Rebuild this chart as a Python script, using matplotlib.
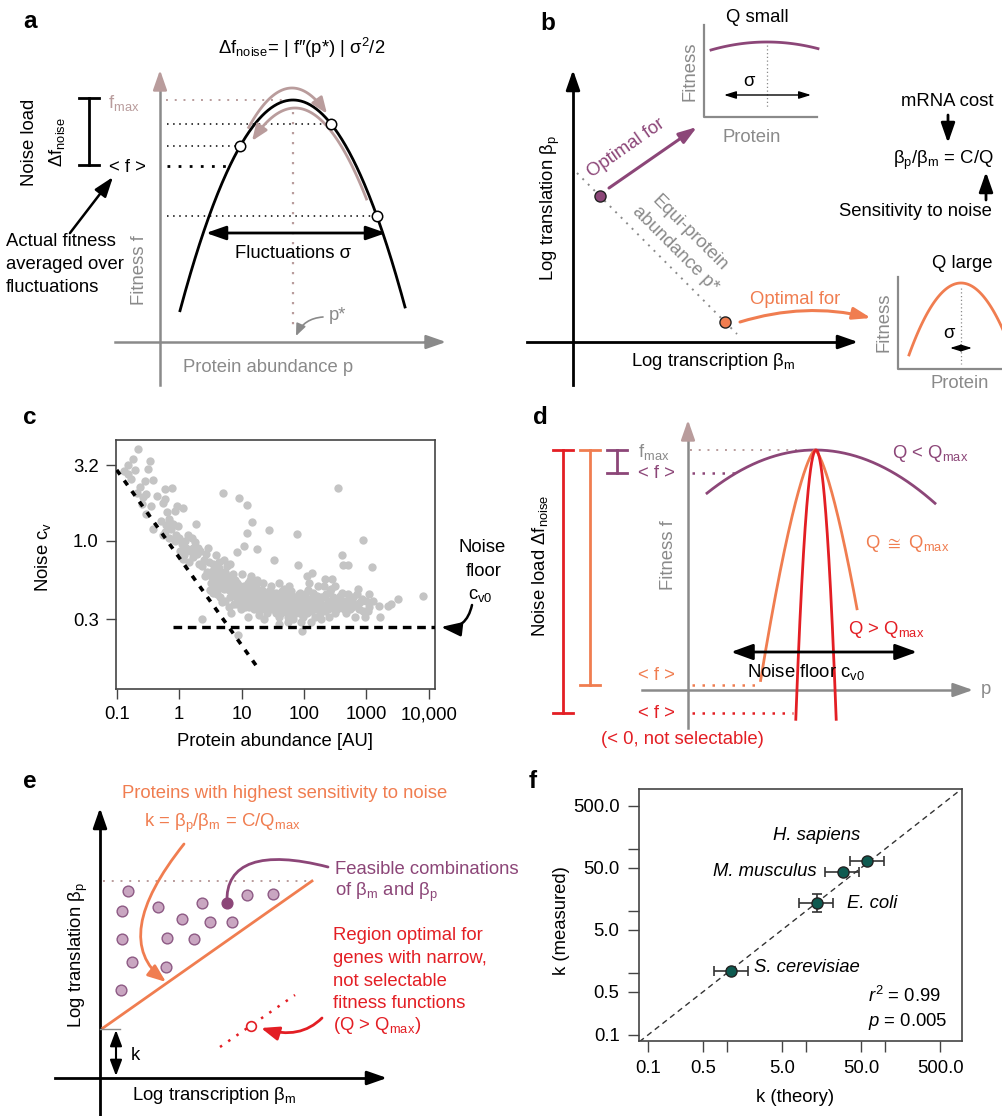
import numpy as np
import matplotlib
matplotlib.use("Agg")
import matplotlib.pyplot as plt
from matplotlib.patches import FancyArrowPatch
from matplotlib.path import Path

plt.rcParams['font.family'] = ['Liberation Sans', 'DejaVu Sans']
plt.rcParams['mathtext.fontset'] = 'custom'
plt.rcParams['mathtext.rm'] = 'Liberation Sans'
plt.rcParams['mathtext.it'] = 'Liberation Sans:italic'
plt.rcParams['mathtext.bf'] = 'Liberation Sans:bold'
plt.rcParams['mathtext.default'] = 'regular'
plt.rcParams['mathtext.fallback'] = 'stixsans'

W, H = 1003, 1116
FS = 13.3
PURPLE = '#8c4678'
ORANGE = '#f07d50'
RED = '#e31e24'
GRAY = '#8a8a8a'
MAUVE = '#b99c9c'
TEAL = '#0e5a50'

# ---------------- panel c data (protein abundance vs noise) ----------------
c_abundance = [
    0.22, 0.185, 0.15, 0.20, 0.15, 0.34, 0.32, 0.38, 0.28, 0.24, 0.21, 0.17, 0.13, 0.30, 0.26,
    0.44, 0.30, 0.38, 0.52, 0.25, 0.35,
    0.60, 0.76, 0.60, 0.56, 0.91, 1.17, 0.86, 0.65, 0.70, 0.80, 0.75, 0.60, 0.90, 0.68, 0.85,
    0.95, 0.72, 0.55, 0.62, 0.98,
    1.87, 1.10, 1.30, 1.50, 1.20, 1.80, 1.60, 1.40, 1.05, 1.70, 1.90, 1.25, 1.45, 1.15, 1.65, 2.0,
    2.2, 2.5, 2.3, 3.0, 2.8, 3.3, 3.6, 4.0, 4.5, 2.6, 3.2, 3.8, 4.2, 4.8, 2.1, 2.7, 3.5, 4.4,
    4.8, 2.3, 3.1, 4.0,
    5.1, 9.2, 12.1, 14.9, 12.1, 11.1, 17.5, 8.4, 5.5, 6.0, 7.0, 8.0, 6.5, 7.5, 9.0, 5.2, 6.2,
    8.5, 9.5, 7.2, 5.8, 8.9, 6.7, 9.8,
    11, 12, 13, 14, 15, 16, 18, 20, 22, 24, 26, 28, 11.5, 13.5, 17, 19, 21, 25, 27.3, 33.5, 23,
    12.5, 15.5, 29,
    32, 35, 38, 42, 45, 50, 55, 60, 65, 70, 75, 80, 85, 90, 95, 40, 48, 58, 68, 78.8, 81.5, 92,
    36, 52, 62, 88,
    133, 110, 277, 220, 350, 880, 402, 427, 510, 1240, 105, 120, 140, 160, 180, 200, 230, 260,
    300, 340, 380, 420, 470, 520, 600, 700, 740, 800, 900, 1120, 500, 150, 250, 115, 170, 320, 650,
    8200, 3220, 2250, 2500, 1580, 1650, 950, 1100, 1300,
    3.5, 4.5, 5.5, 6.5, 7.5, 8.5, 10.5, 11.5, 13, 14.5, 16.5, 18.5, 21, 23.5, 26, 30, 34, 37, 41,
    46, 51, 57, 63, 72, 83, 98, 110, 125, 145, 165, 190, 215, 240, 280, 330, 390, 450, 560,
    6.0, 7.8, 9.3, 12.8, 4.3, 5.2, 3.9, 2.9, 6.5, 10, 14, 18, 22, 30, 40, 120, 210, 270,
    90, 130, 190, 40, 55,
]
c_noise = [
    4.1, 3.5, 3.2, 2.95, 2.8, 3.4, 3.0, 2.55, 2.5, 2.3, 2.1, 2.6, 2.9, 2.05, 1.95,
    2.0, 1.5, 1.2, 1.35, 1.75, 1.7,
    2.2, 2.25, 1.9, 1.78, 1.7, 1.65, 1.57, 1.55, 1.4, 1.3, 1.2, 1.15, 1.1, 1.05, 1.0,
    1.25, 1.32, 1.1, 1.28, 1.05,
    1.3, 0.95, 0.9, 0.85, 0.8, 0.98, 1.05, 1.1, 0.85, 0.78, 0.82, 1.0, 0.72, 0.76, 0.9, 0.9,
    0.85, 0.75, 0.68, 0.72, 0.62, 0.58, 0.65, 0.55, 0.6, 0.58, 0.52, 0.5, 0.48, 0.52, 0.7, 0.82, 0.7, 0.66,
    0.39, 0.30, 0.47, 0.44,
    2.1, 1.93, 1.73, 1.33, 1.13, 0.93, 0.88, 0.84, 0.62, 0.55, 0.5, 0.45, 0.42, 0.38, 0.4, 0.48, 0.36,
    0.52, 0.47, 0.6, 0.68, 0.236, 0.33, 0.35,
    0.5, 0.45, 0.42, 0.38, 0.48, 0.35, 0.43, 0.4, 0.37, 0.45, 0.33, 0.41, 0.36, 0.55, 0.5, 0.32, 0.47,
    0.39, 1.18, 0.74, 0.30, 0.31, 0.42, 0.36,
    0.45, 0.38, 0.42, 0.35, 0.4, 0.37, 0.44, 0.33, 0.39, 0.36, 0.42, 0.34, 0.4, 0.37, 0.31, 0.31, 0.48,
    0.5, 0.30, 1.11, 0.69, 0.25, 0.33, 0.34, 0.41, 0.45,
    0.61, 0.58, 0.56, 0.56, 2.24, 1.02, 0.8, 0.69, 0.69, 0.67, 0.4, 0.36, 0.44, 0.38, 0.33, 0.42, 0.37,
    0.46, 0.4, 0.35, 0.43, 0.38, 0.33, 0.41, 0.36, 0.44, 0.48, 0.39, 0.34, 0.44, 0.44, 0.31, 0.31,
    0.47, 0.5, 0.5, 0.31,
    0.43, 0.41, 0.37, 0.38, 0.37, 0.31, 0.31, 0.36, 0.4,
    0.45, 0.42, 0.4, 0.5, 0.44, 0.38, 0.42, 0.4, 0.47, 0.44, 0.4, 0.37, 0.42, 0.35, 0.43, 0.39, 0.42,
    0.36, 0.4, 0.43, 0.39, 0.36, 0.43, 0.39, 0.36, 0.42, 0.37, 0.41, 0.35, 0.43, 0.38, 0.34, 0.4,
    0.36, 0.39, 0.36, 0.4, 0.38,
    0.58, 0.55, 0.5, 0.52, 0.72, 0.75, 0.8, 0.9, 0.7, 0.6, 0.58, 0.55, 0.52, 0.5, 0.52, 0.52, 0.5, 0.48,
    0.29, 0.29, 0.30, 0.28, 0.29,
]
# extra points filling the dense band
c_band_abundance = [
    3.3, 3.7, 4.1, 4.6, 5.0, 5.6, 6.3, 6.9, 7.6, 8.2, 8.8, 9.6, 10.3, 11, 12, 13.2, 14, 15, 16,
    17, 19, 20, 22, 24, 27, 28, 31, 33, 36, 39, 43, 44, 47, 53, 56, 59, 61, 66, 69, 74, 77, 82,
    87, 93, 100, 104, 112, 118, 128, 135, 142, 155, 175, 185, 205, 225, 245, 290, 310, 360, 410,
    440, 480, 550, 620, 680, 760, 850, 1000, 1050,
]
c_band_noise = [
    0.62, 0.55, 0.6, 0.53, 0.58, 0.52, 0.47, 0.55, 0.48, 0.42, 0.5, 0.44, 0.38, 0.46, 0.41, 0.36,
    0.5, 0.4, 0.45, 0.38, 0.45, 0.35, 0.44, 0.38, 0.36, 0.46, 0.35, 0.41, 0.45, 0.38, 0.33, 0.46,
    0.36, 0.42, 0.31, 0.38, 0.46, 0.35, 0.42, 0.33, 0.4, 0.44, 0.33, 0.4, 0.35, 0.44, 0.33, 0.4,
    0.34, 0.38, 0.45, 0.4, 0.36, 0.42, 0.37, 0.44, 0.35, 0.42, 0.33, 0.41, 0.45, 0.35, 0.38, 0.35,
    0.42, 0.38, 0.35, 0.41, 0.4, 0.34,
]
c_floor_level = 0.268
c_floor_range = [0.8, 13000]
c_limit_x = [0.1, 17.7]
c_limit_y = [2.97, 0.145]
c_xticks = [0.1, 1, 10, 100, 1000, 10000]
c_xticklabels = ['0.1', '1', '10', '100', '1000', '10,000']
c_yticks = [0.3, 1.0, 3.2]
c_yticklabels = ['0.3', '1.0', '3.2']

# ---------------- panel f data (k theory vs measured) ----------------
f_species = ['S. cerevisiae', 'E. coli', 'M. musculus', 'H. sapiens']
f_k_theory = [1.13, 13.6, 29, 60]
f_k_measured = [1.06, 13.4, 42, 64]
f_xerr_lo = [0.45, 5.4, 11.6, 24]
f_xerr_hi = [0.73, 8.4, 17.6, 38]
f_yerr_lo = [0.08, 3.6, 0, 0]
f_yerr_hi = [0.1, 5.2, 0, 0]
f_ticks = [0.1, 0.5, 1, 5, 10, 50, 100, 500]
f_ticklabels = ['0.1', '0.5', '', '5.0', '', '50.0', '', '500.0']

# ---------------- panel e schematic: feasible (log bm, log bp), origin at axes crossing ----
e_log_bm = [28, 22, 58, 102, 147, 173, 82, 110, 132, 22, 67, 94, 32, 66, 21]
e_log_bp = [187, 167, 171, 175, 183, 184, 159, 156, 156, 139, 140, 139, 116, 111, 88]
e_chosen = (127, 175)

fig = plt.figure(figsize=(W / 100, H / 100), dpi=100)


def px_axes(x0, y0, x1, y1):
    return fig.add_axes([x0 / W, 1 - y1 / H, (x1 - x0) / W, (y1 - y0) / H])


# ---------------- panel c ----------------
axc = px_axes(116, 440, 435, 689)
axc.set_xscale('log')
axc.set_yscale('log')
axc.scatter(c_abundance + c_band_abundance, c_noise + c_band_noise, s=36, color='#c4c4c4',
            lw=0, zorder=2)
axc.plot(c_floor_range, [c_floor_level] * 2, color='k', lw=2.4, ls=(0, (2.6, 1.7)), zorder=3)
axc.plot(c_limit_x, c_limit_y, color='k', lw=2.6, ls=(0, (1.6, 2.0)), zorder=3)
axc.set_xlim(0.0974, 12600)
axc.set_ylim(0.103, 4.7)
axc.xaxis.set_major_locator(matplotlib.ticker.FixedLocator(c_xticks))
axc.xaxis.set_minor_locator(matplotlib.ticker.NullLocator())
axc.set_xticklabels(c_xticklabels)
axc.yaxis.set_major_locator(matplotlib.ticker.FixedLocator(c_yticks))
axc.yaxis.set_minor_locator(matplotlib.ticker.NullLocator())
axc.set_yticklabels(c_yticklabels)
axc.tick_params(length=7.5, width=1, labelsize=FS, pad=5, color='#444')
for s in axc.spines.values():
    s.set_color('#444')
    s.set_linewidth(1.2)

# ---------------- panel f ----------------
axf = px_axes(639, 789, 962, 1041)
axf.set_xscale('log')
axf.set_yscale('log')
axf.plot([0.05, 2000], [0.05, 2000], color='#333', lw=1, ls=(0, (4, 3)), zorder=1)
axf.errorbar(f_k_theory, f_k_measured, xerr=[f_xerr_lo, f_xerr_hi], yerr=[f_yerr_lo, f_yerr_hi],
             fmt='o', color='#333', ecolor='#333', elinewidth=1.2, capsize=3.5, capthick=1.2,
             markerfacecolor=TEAL, markeredgecolor='#222', markersize=8, zorder=3)
axf.set_xlim(0.077, 944)
axf.set_ylim(0.08, 933)
for axis in (axf.xaxis, axf.yaxis):
    axis.set_major_locator(matplotlib.ticker.FixedLocator(f_ticks))
    axis.set_minor_locator(matplotlib.ticker.NullLocator())
axf.set_xticklabels(f_ticklabels)
axf.set_yticklabels(f_ticklabels)
axf.tick_params(length=8, width=1, labelsize=FS, pad=6, color='#444')
for s in axf.spines.values():
    s.set_color('#444')
    s.set_linewidth(1.2)
f_label_pos = {'H. sapiens': (817, 836, 'center'), 'M. musculus': (817, 871, 'right'),
               'E. coli': (847, 903, 'left'), 'S. cerevisiae': (754, 968, 'left')}

# ---------------- overlay for schematics ----------------
ov = fig.add_axes([0, 0, 1, 1])
ov.set_xlim(0, W)
ov.set_ylim(H, 0)
ov.axis('off')
ov.patch.set_alpha(0)


def txt(x, y, s, color='k', size=FS, ha='center', va='center', rot=0, **kw):
    ov.text(x, y, s, color=color, fontsize=size, ha=ha, va=va, rotation=rot,
            rotation_mode='anchor', **kw)


def arrow(x0, y0, x1, y1, color='k', lw=1.5, hl=0.8, hw=0.3, style='-|>', rad=0.0, ms=12):
    ov.add_patch(FancyArrowPatch((x0, y0), (x1, y1),
                                 arrowstyle=f'{style},head_length={hl},head_width={hw}',
                                 mutation_scale=ms, color=color, lw=lw, shrinkA=0, shrinkB=0,
                                 connectionstyle=f'arc3,rad={rad}', zorder=4))


def curved(points, color, lw=2, hl=0.8, hw=0.3, ms=12):
    codes = [Path.MOVETO] + [Path.CURVE4] * 3 if len(points) == 4 else [Path.MOVETO] + [Path.CURVE3] * 2
    ov.add_patch(FancyArrowPatch(path=Path(points, codes),
                                 arrowstyle=f'-|>,head_length={hl},head_width={hw}',
                                 mutation_scale=ms, color=color, lw=lw, zorder=4))


def arc_arrow(xs, ys, color, lw=2, hl=0.8, hw=0.32, ms=12):
    ov.plot(xs[:-3], ys[:-3], color=color, lw=lw, solid_capstyle='butt')
    arrow(xs[-4], ys[-4], xs[-1], ys[-1], color=color, lw=lw, hl=hl, hw=hw, ms=ms)


def ibar(x, y0, y1, color, half=10, lw=2):
    ov.plot([x, x], [y0, y1], color=color, lw=lw)
    ov.plot([x - half, x + half], [y0, y0], color=color, lw=lw)
    ov.plot([x - half, x + half], [y1, y1], color=color, lw=lw)


# panel labels
for lab, (x, y) in {'a': (30, 22), 'b': (548, 23), 'c': (30, 418), 'd': (540, 417),
                    'e': (30, 782), 'f': (533, 781)}.items():
    txt(x, y, lab, size=17.5, weight='bold')

# ---------------- panel a ----------------
a_pstar, a_fmax, a_curv = 293, 100, 0.0165
a_samples = [240, 331, 377]
a_mean = 166
ov.plot([160, 160], [385, 85], color=GRAY, lw=1.8)
arrow(160, 90, 160, 70, color=MAUVE, lw=1.8, hl=1.0, hw=0.35)
ov.plot([115, 432], [342, 342], color=GRAY, lw=1.8)
arrow(425, 342, 446, 342, color=GRAY, lw=1.8, hl=1.0, hw=0.35)
pa = np.linspace(180, 405, 300)
ov.plot(pa, a_fmax + a_curv * (pa - a_pstar) ** 2, color='k', lw=2, zorder=3)
ov.plot([166, a_pstar], [a_fmax, a_fmax], color=MAUVE, lw=1.4, ls=(0, (1, 3.5)))
ov.plot([a_pstar, a_pstar], [112, 332], color=MAUVE, lw=1.6, ls=(0, (1, 3.5)))
for p in a_samples:
    fy = a_fmax + a_curv * (p - a_pstar) ** 2
    ov.plot([167, p], [fy, fy], color='k', lw=1.1, ls=(0, (1, 3)))
    ov.plot(p, fy, 'o', ms=7.5, mfc='white', mec='k', mew=1.1, zorder=5)
xm = a_pstar - np.sqrt((a_mean - a_fmax) / a_curv)
ov.plot([167, xm], [a_mean, a_mean], color='k', lw=2, ls=(0, (1, 3)))
# fluctuation arcs: one above the curve (left->right), one below (right->left)
up_x = np.linspace(248, 327, 60)
arc_arrow(up_x, 88 + 0.021 * (up_x - 292) ** 2, MAUVE)
lo_x = np.linspace(367, 252, 60)
arc_arrow(lo_x, 108 + 0.0178 * (lo_x - 295) ** 2, MAUVE)
arrow(206, 233, 386, 233, lw=2, style='<|-|>', hl=1.0, hw=0.35)
txt(293, 254, 'Fluctuations σ')
txt(337, 315, 'p*', color=GRAY)
arrow(323, 317, 296, 336, color=GRAY, lw=1.2, hl=0.6, hw=0.25, rad=0.3)
txt(140, 270, 'Fitness f', color=GRAY, rot=90)
txt(268, 367, 'Protein abundance p', color=GRAY)
txt(302, 48, 'Δf$_{noise}$= | f″(p*) | σ$^2$/2')
ibar(89, 98, 165, 'k')
txt(30, 142, 'Noise load', rot=90)
txt(57, 142, 'Δf$_{noise}$', rot=90)
txt(108, 103, 'f$_{max}$', color=MAUVE, ha='left')
txt(127, 168, '< f >')
arrow(70, 233, 113, 177, lw=1.8, hl=1.0, hw=0.35)
for i, line in enumerate(['Actual fitness', 'averaged over', 'fluctuations']):
    txt(6, 242 + 22.5 * i, line, ha='left')

# ---------------- panel b ----------------
ov.plot([573, 573], [385, 85], color='k', lw=2)
arrow(573, 90, 573, 70, lw=2, hl=1.0, hw=0.35)
ov.plot([527, 845], [342, 342], color='k', lw=2)
arrow(840, 342, 858, 342, lw=2, hl=1.0, hw=0.35)
txt(550, 208, 'Log translation β$_p$', rot=90)
txt(713, 361, 'Log transcription β$_m$')
ov.plot([577, 737], [173, 334], color=GRAY, lw=1.4, ls=(0, (1, 3)))
ov.plot(600, 196, 'o', ms=8, mfc=PURPLE, mec='#222', mew=1, zorder=5)
ov.plot(725, 322, 'o', ms=8, mfc=ORANGE, mec='#222', mew=1, zorder=5)
arrow(609, 188, 697, 127, color=PURPLE, lw=2.2, hl=0.9, hw=0.3)
txt(626, 148, 'Optimal for', color=PURPLE, rot=35)
txt(690, 233, 'Equi-protein', color=GRAY, rot=-45)
txt(675, 249, 'abundance p*', color=GRAY, rot=-45)
curved([(740, 322), (805, 302), (871, 318)], ORANGE, lw=2.2, hl=0.9, hw=0.3)
txt(795, 300, 'Optimal for', color=ORANGE)
# inset Q small
ov.plot([704, 704, 817], [25, 117, 117], color=GRAY, lw=1.6)
qs = np.linspace(711, 818, 100)
ov.plot(qs, 42 + 0.00255 * (qs - 767) ** 2, color=PURPLE, lw=2)
ov.plot([767, 767], [45, 108], color=GRAY, lw=0.9, ls=(0, (1, 2)))
arrow(724, 95, 811, 95, lw=1, style='<|-|>', hl=0.8, hw=0.25, ms=9)
txt(749, 81, 'σ')
txt(690, 71, 'Fitness', color=GRAY, rot=90)
txt(752, 138, 'Protein', color=GRAY)
txt(757, 17, 'Q small')
# inset Q large
ov.plot([898, 898, 1003], [277, 369, 369], color=GRAY, lw=1.6)
ql = np.linspace(909, 1003, 100)
ov.plot(ql, 283 + 0.0266 * (ql - 961) ** 2, color=ORANGE, lw=2)
ov.plot([961, 961], [288, 364], color=GRAY, lw=0.9, ls=(0, (1, 2)))
arrow(950, 348, 972, 348, lw=1, style='<|-|>', hl=0.8, hw=0.25, ms=8)
txt(949, 334, 'σ')
txt(884, 322, 'Fitness', color=GRAY, rot=90)
txt(960, 384, 'Protein', color=GRAY)
txt(962, 263, 'Q large')
txt(947, 102, 'mRNA cost')
arrow(948, 115, 948, 143, lw=2, hl=1.0, hw=0.35)
txt(943, 160, 'β$_p$/β$_m$ = C/Q')
arrow(986, 200, 986, 172, lw=2, hl=1.0, hw=0.35)
txt(915, 212, 'Sensitivity to noise')

# ---------------- panel c text ----------------
txt(43, 557, 'Noise c$_v$', rot=90)
txt(275, 741, 'Protein abundance [AU]')
txt(482, 547, 'Noise')
txt(484, 571, 'floor')
txt(480, 595, 'c$_{v0}$')
arrow(472, 605, 441, 627, lw=1.8, hl=1.0, hw=0.35, rad=-0.45)

# ---------------- panel d ----------------
d_pstar, d_fmax = 815, 450
ov.plot([688, 688], [728, 430], color=GRAY, lw=1.8)
arrow(688, 435, 688, 420, color=MAUVE, lw=1.8, hl=1.0, hw=0.35)
ov.plot([642, 960], [690, 690], color=GRAY, lw=1.8)
arrow(955, 690, 973, 690, color=GRAY, lw=1.8, hl=1.0, hw=0.35)
txt(986, 690, 'p', color=GRAY)
txt(669, 555, 'Fitness f', color=GRAY, rot=90)
ov.plot([690, d_pstar], [d_fmax, d_fmax], color=MAUVE, lw=1.4, ls=(0, (1, 3.5)))
pd_ = np.linspace(707, 935, 200)
ov.plot(pd_, d_fmax + 0.0037 * (pd_ - d_pstar) ** 2, color=PURPLE, lw=2)
po = np.linspace(760.6, 857, 200)
ov.plot(po, d_fmax + 0.73 * np.abs(po - d_pstar) ** 1.44, color=ORANGE, lw=2)
pr = np.linspace(795.8, 836.2, 200)
ov.plot(pr, d_fmax + 0.66 * (pr - 816) ** 2, color=RED, lw=2)
txt(930, 453, 'Q < Q$_{max}$', color=PURPLE)
txt(907, 543, r'Q $\cong$ Q$_{max}$', color=ORANGE)
txt(886, 630, 'Q > Q$_{max}$', color=RED)
arrow(731, 652, 917, 652, lw=2, style='<|-|>', hl=1.1, hw=0.4)
txt(806, 672, 'Noise floor c$_{v0}$')
txt(638, 452, 'f$_{max}$', color=GRAY, ha='left')
txt(656, 473, '< f >', color=PURPLE)
ov.plot([692, 738], [473, 473], color=PURPLE, lw=1.8, ls=(0, (1, 3)))
txt(656, 675, '< f >', color=ORANGE)
ov.plot([692, 760], [685, 685], color=ORANGE, lw=1.8, ls=(0, (1, 3)))
txt(656, 713, '< f >', color=RED)
ov.plot([692, 793], [713, 713], color=RED, lw=1.8, ls=(0, (1, 3)))
txt(682, 739, '(< 0, not selectable)', color=RED)
ibar(563, 450, 713, RED)
ibar(590, 450, 685, ORANGE)
ibar(617, 450, 473, PURPLE)
txt(540, 566, 'Noise load Δf$_{noise}$', rot=90)

# ---------------- panel e ----------------
ex0, ey0 = 100, 1078
ov.plot([ex0, ex0], [1116, 820], color='k', lw=2)
arrow(ex0, 825, ex0, 808, lw=2, hl=1.0, hw=0.35)
ov.plot([55, 375], [ey0, ey0], color='k', lw=2)
arrow(370, ey0, 387, ey0, lw=2, hl=1.0, hw=0.35)
txt(78, 955, 'Log translation β$_p$', rot=90)
txt(214, 1096, 'Log transcription β$_m$')
txt(285, 793, 'Proteins with highest sensitivity to noise', color=ORANGE)
txt(222, 823, 'k = β$_p$/β$_m$ = C/Q$_{max}$', color=ORANGE)
ov.plot([103, 312], [881, 881], color=MAUVE, lw=1.4, ls=(0, (1, 3.5)))
ov.plot([103, 312], [1028, 881], color=ORANGE, lw=2)
ov.plot([100, 120], [1029, 1029], color=GRAY, lw=1)
arrow(116, 1053, 116, 1030, lw=1.5, hl=0.8, hw=0.3)
arrow(116, 1053, 116, 1076, lw=1.5, hl=0.8, hw=0.3)
txt(135, 1055, 'k')
ov.scatter([ex0 + v for v in e_log_bm], [ey0 - v for v in e_log_bp], s=60,
           color='#c9a6c1', edgecolor='#8d5a84', lw=1, zorder=5)
ov.scatter([ex0 + e_chosen[0]], [ey0 - e_chosen[1]], s=60, color=PURPLE, edgecolor=PURPLE,
           lw=1, zorder=5)
ov.add_patch(FancyArrowPatch(path=Path([(227, 903), (225, 862), (262, 850), (328, 867)],
                                       [Path.MOVETO, Path.CURVE4, Path.CURVE4, Path.CURVE4]),
                             arrowstyle='-', color=PURPLE, lw=2, zorder=4))
txt(335, 869, 'Feasible combinations', color=PURPLE, ha='left')
txt(335, 892, 'of β$_m$ and β$_p$', color=PURPLE, ha='left')
for i, line in enumerate(['Region optimal for', 'genes with narrow,', 'not selectable',
                          'fitness functions', '(Q > Q$_{max}$)']):
    txt(333, 936 + 22.5 * i, line, color=RED, ha='left')
ov.plot([220, 295], [1047, 995], color=RED, lw=1.8, ls=(0, (1, 3)))
ov.plot(251, 1026, 'o', ms=7, mfc='white', mec=RED, mew=1.2, zorder=5)
curved([(322, 1018), (300, 1040), (261, 1028)], RED, lw=2, hl=0.9, hw=0.35)
curved([(184, 844), (109.5, 937.5), (166, 982)], ORANGE, lw=2, hl=0.9, hw=0.35)

# ---------------- panel f text ----------------
txt(562, 921, 'k (measured)', rot=90)
txt(795, 1097, 'k (theory)')
for sp in f_species:
    x, y, ha = f_label_pos[sp]
    txt(x, y, sp, ha=ha, style='italic')
txt(868, 996, '$\\mathit{r}^2$ = 0.99', ha='left')
txt(868, 1022, '$\\mathit{p}$ = 0.005', ha='left')

fig.savefig('out.png', dpi=100)
